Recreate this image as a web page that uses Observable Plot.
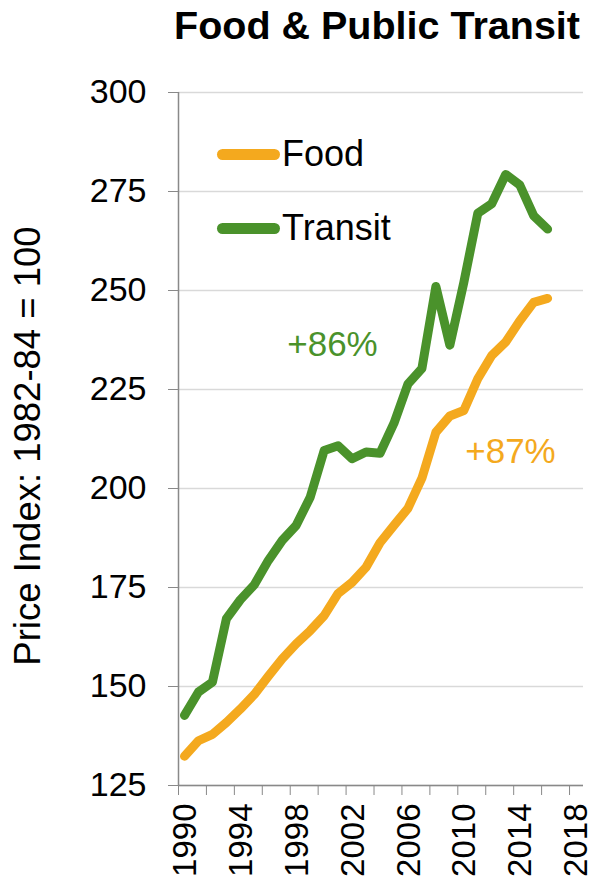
<!DOCTYPE html>
<html><head><meta charset="utf-8">
<script src="https://cdn.jsdelivr.net/npm/d3@7"></script>
<script src="https://cdn.jsdelivr.net/npm/@observablehq/plot@0.6"></script>
<style>
body{margin:0;background:#fff;font-family:"Liberation Sans",Arial,sans-serif;}
#wrap{position:relative;width:592px;height:877px;overflow:hidden;}
#title{position:absolute;left:174px;top:6px;font-size:39.5px;line-height:39px;font-weight:bold;color:#000;white-space:nowrap;}
#chart{position:absolute;left:0;top:50px;}
.leg-sw{position:absolute;height:11px;border-radius:6px;}
.leg-tx{position:absolute;font-size:36px;line-height:36px;color:#000;white-space:nowrap;}
</style></head><body>
<div id="wrap"><div id="chart"></div><div id="title"></div></div>
<script>
const title = "Food & Public Transit";
const yLabel = "Price Index: 1982-84 = 100";
const years = [1990,1991,1992,1993,1994,1995,1996,1997,1998,1999,2000,2001,2002,2003,2004,2005,2006,2007,2008,2009,2010,2011,2012,2013,2014,2015,2016];
const food = [132.4,136.3,137.9,140.9,144.3,148.0,152.6,157.0,160.8,164.1,167.9,173.5,176.3,180.1,186.3,190.7,195.0,202.6,214.2,218.3,219.7,227.7,233.6,237.0,242.3,247.0,248.0];
const transit = [142.7,148.6,151.1,167.1,171.9,175.7,181.8,186.9,190.7,197.8,209.6,210.8,207.5,209.2,208.9,216.5,226.4,230.3,251.0,236.2,252.0,269.5,271.9,279.3,276.7,268.9,265.5];
const seriesNames = ["Food", "Transit"];
const seriesColors = ["#F4A91E", "#4A922B"];
const yTicks = [125,150,175,200,225,250,275,300];
const xDomain = [1990, 2019];
const xTickMarks = [1990,1992,1994,1996,1998,2000,2002,2004,2006,2008,2010,2012,2014,2016,2018];
const xTickLabels = [1990,1994,1998,2002,2006,2010,2014,2018];

const seriesValues = [food, transit];
const rows = [];
seriesNames.forEach((s, i) => years.forEach((y, j) => rows.push({series: s, year: y, value: seriesValues[i][j]})));
const pct = v => "+" + Math.round((v[v.length - 1] / v[0] - 1) * 100) + "%";

document.getElementById("title").textContent = title;

const font = '"Liberation Sans", Arial, sans-serif';
const chart = Plot.plot({
  width: 592, height: 827,
  marginTop: 42, marginBottom: 92, marginLeft: 178, marginRight: 9,
  style: {fontFamily: font, color: "#000", background: "#fff", overflow: "visible"},
  x: {domain: xDomain, label: null},
  y: {domain: [yTicks[0], yTicks[yTicks.length - 1]], label: null},
  color: {domain: seriesNames, range: seriesColors},
  marks: [
    Plot.gridY(yTicks, {stroke: "#d9d9d9", strokeOpacity: 1, strokeWidth: 1.5}),
    Plot.ruleX([xDomain[0]], {stroke: "#898989", strokeWidth: 1.5}),
    Plot.ruleY([yTicks[0]], {stroke: "#898989", strokeWidth: 1.5}),
    Plot.axisY(yTicks, {tickSize: 10, tickPadding: 22, fontSize: 34, stroke: "#898989", label: null, tickFormat: d => String(d)}),
    Plot.axisX(xTickMarks, {tickSize: 10, stroke: "#898989", text: null, label: null}),
    Plot.axisX(xTickLabels, {tickSize: 0, tickPadding: 18, tickRotate: -90, fontSize: 33, dx: 7, label: null, tickFormat: d => String(d)}),
    Plot.line(rows, {x: "year", y: "value", z: "series", stroke: "series", strokeWidth: 9, strokeLinecap: "round", strokeLinejoin: "round", dx: 6}),
    Plot.text([yLabel], {text: d => d, frameAnchor: "left", textAnchor: "middle", lineAnchor: "middle", rotate: -90, dx: -150, dy: 7, fontSize: 36.5, fill: "#000"}),
    Plot.text([pct(transit)], {text: d => d, frameAnchor: "top-left", textAnchor: "middle", lineAnchor: "bottom", dx: 154, dy: 263, fontSize: 35, fill: seriesColors[1]}),
    Plot.text([pct(food)], {text: d => d, frameAnchor: "top-left", textAnchor: "middle", lineAnchor: "bottom", dx: 332, dy: 370, fontSize: 35, fill: seriesColors[0]})
  ]
});
document.getElementById("chart").appendChild(chart);

const wrap = document.getElementById("wrap");
seriesNames.forEach((s, i) => {
  const sw = document.createElement("div");
  sw.className = "leg-sw";
  sw.style.left = "217px";
  sw.style.width = "63px";
  sw.style.top = (148.5 + i * 74) + "px";
  sw.style.background = seriesColors[i];
  wrap.appendChild(sw);
  const tx = document.createElement("div");
  tx.className = "leg-tx";
  tx.style.left = "282px";
  tx.style.top = (136 + i * 74) + "px";
  tx.textContent = s;
  wrap.appendChild(tx);
});
</script>
</body></html>
